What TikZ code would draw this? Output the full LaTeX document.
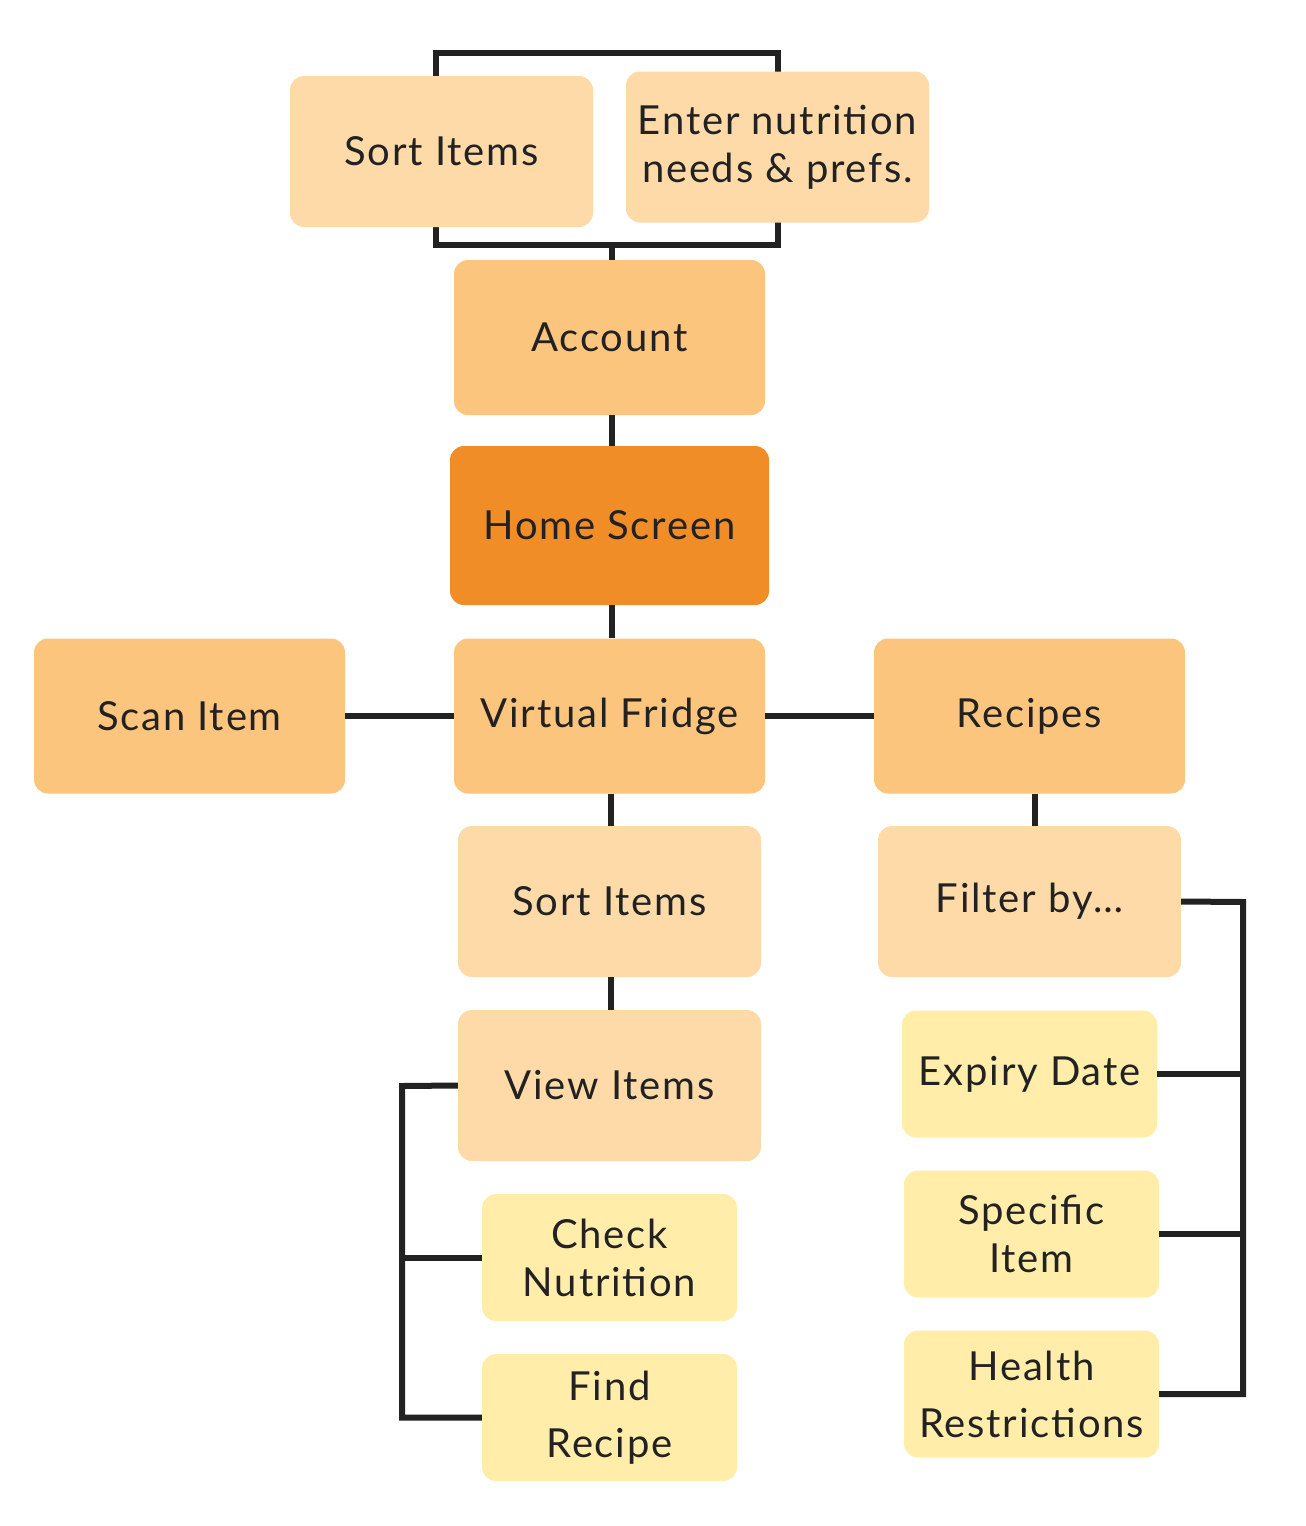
\documentclass[tikz,border=0pt]{standalone}
\usepackage{fontspec}
\setmainfont{Lato}[LetterSpace=4.5]
\definecolor{peach}{HTML}{FDDAA8}
\definecolor{midor}{HTML}{FCC57D}
\definecolor{darkor}{HTML}{F08D27}
\definecolor{ylw}{HTML}{FFEDA9}
\definecolor{ink}{HTML}{222222}
\pgfdeclarelayer{background}
\pgfsetlayers{background,main}
\tikzset{
  box/.style={rounded corners=14pt, inner sep=0pt, align=center, text=ink,
    font=\fontsize{40}{48}\selectfont},
  bigbox/.style={box, minimum width=311pt, minimum height=155pt},
  medbox/.style={box, minimum width=303pt, minimum height=151pt},
  smallbox/.style={box, fill=ylw, minimum width=255pt, minimum height=127pt},
  wide/.style={font=\fontsize{40}{57}\selectfont},
  conn/.style={draw=ink, line width=6pt}
}
\begin{document}
\begin{tikzpicture}[x=1pt,y=-1pt]
\useasboundingbox (0,0) rectangle (1306,1526);
% nodes
\node[medbox, fill=peach] (sortT) at (441.5,151.5) {Sort Items};
\node[medbox, fill=peach] (enter) at (777.5,147) {Enter nutrition\\needs \& prefs.};
\node[bigbox, fill=midor] (acc) at (609.5,337.5) {Account};
\node[box, fill=darkor, minimum width=319pt, minimum height=159pt] (home) at (609.5,525.5) {Home Screen};
\node[bigbox, fill=midor] (scan) at (189.5,716) {Scan Item};
\node[bigbox, fill=midor] (fridge) at (609.5,716) {Virtual Fridge};
\node[bigbox, fill=midor] (recipes) at (1029.5,716) {Recipes};
\node[medbox, fill=peach] (sort2) at (609.5,901.5) {Sort Items};
\node[medbox, fill=peach] (filter) at (1029.5,901.5) {Filter by\dots};
\node[medbox, fill=peach] (view) at (609.5,1085.5) {View Items};
\node[smallbox] (check) at (609.5,1257.5) {Check\\Nutrition};
\node[smallbox, wide] (find) at (609.5,1417.5) {Find\\Recipe};
\node[smallbox] (expiry) at (1029.5,1074) {Expiry Date};
\node[smallbox] (specific) at (1031.5,1234) {Specific\\Item};
\node[smallbox, wide] (health) at (1031.5,1394) {Health\\Restrictions};
% connectors
\coordinate (topbar) at (612,53);
\coordinate (botbar) at (612,245);
\coordinate (lspine) at (402,1086);
\coordinate (rspine) at (1243,902);
\begin{pgfonlayer}{background}
\draw[conn] ([xshift=-6pt]sortT.center) |- (topbar) -| (enter.center);
\draw[conn] ([xshift=-6pt]sortT.center) |- (botbar) -| (enter.center);
\draw[conn] (botbar) -- (botbar |- acc.north);
\end{pgfonlayer}
\draw[conn] ([xshift=2pt]acc.south) -- ([xshift=2pt]home.north);
\draw[conn] ([xshift=2pt]home.south) -- ([xshift=2pt]fridge.north);
\draw[conn] (scan.east) -- (fridge.west);
\draw[conn] (fridge.east) -- (recipes.west);
\draw[conn] ([xshift=1pt]fridge.south) -- ([xshift=1pt]sort2.north);
\draw[conn] ([xshift=5pt]recipes.south) -- ([xshift=5pt]filter.north);
\draw[conn] ([xshift=1pt]sort2.south) -- ([xshift=1pt]view.north);
\draw[conn] (view.west) -- (lspine) |- (find.west);
\draw[conn] (lspine |- check.west) -- (check.west);
\draw[conn] (filter.east) -- (rspine) |- (health.east);
\draw[conn] (rspine |- expiry.east) -- (expiry.east);
\draw[conn] (rspine |- specific.east) -- (specific.east);
\end{tikzpicture}
\end{document}
